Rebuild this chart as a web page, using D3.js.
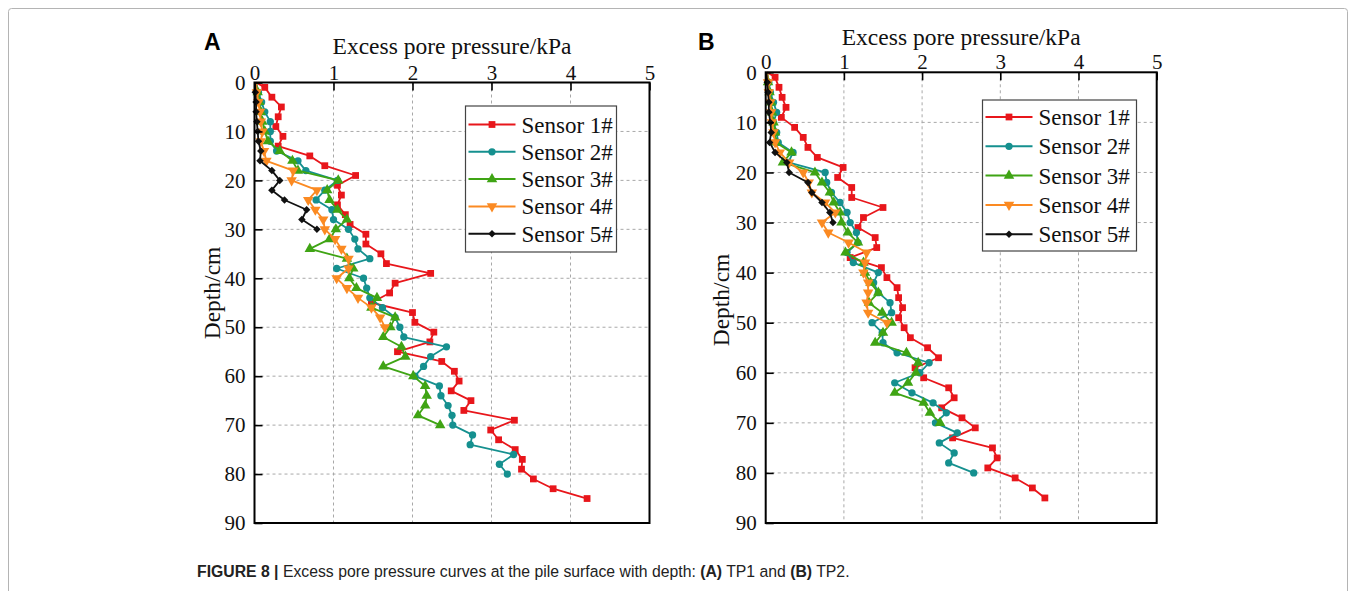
<!DOCTYPE html>
<html>
<head>
<meta charset="utf-8">
<script src="https://cdn.jsdelivr.net/npm/d3@7"></script>
<style>
  html, body { margin: 0; padding: 0; background: #fff; }
  svg { display: block; }
</style>
</head>
<body>
<svg id="fig" width="1356" height="591"></svg>
<script>
// ---------- data: excess pore pressure (kPa) against depth (cm) ----------
const sensorNames = ["Sensor 1#", "Sensor 2#", "Sensor 3#", "Sensor 4#", "Sensor 5#"];
const xTicks = [0, 1, 2, 3, 4, 5];
const yTicks = [0, 10, 20, 30, 40, 50, 60, 70, 80, 90];

// TP1
const depthA1 = [0,1,3,5,7,9,11,13,15,17,19,21,23,25,27,29,31,33,35,37,39,41,43,45,47,49,51,53,55,57,59,61,63,65,67,69,71,73,75,77,79,81,83,85];
const pressA1 = [0.02,0.13,0.22,0.34,0.30,0.27,0.36,0.30,0.70,0.89,1.28,1.05,1.10,1.05,1.15,1.21,1.41,1.41,1.60,1.67,2.23,1.78,1.71,1.48,2.00,2.03,2.27,2.22,1.81,2.37,2.53,2.59,2.49,2.74,2.65,3.29,2.99,3.09,3.30,3.39,3.38,3.53,3.78,4.21];
const depthA2 = [0,2,4,6,8,10,12,14,16,18,20,22,24,26,28,30,32,34,36,38,40,42,44,46,48,50,52,54,56,58,60,62,64,66,68,70,72,74,76,78,80];
const pressA2 = [0.02,0.05,0.09,0.13,0.20,0.20,0.20,0.28,0.55,0.65,1.05,0.89,0.78,0.98,1.00,1.19,1.27,1.31,1.46,1.04,1.38,1.42,1.46,1.62,1.78,1.84,1.89,2.43,2.23,2.14,2.03,2.34,2.36,2.45,2.50,2.51,2.76,2.73,3.28,3.10,3.20];
const depthA3 = [0,2,4,6,8,10,12,14,16,18,20,22,24,26,28,30,32,34,36,38,40,42,44,46,48,50,52,54,56,58,60,62,64,66,68,70];
const pressA3 = [0.02,0.04,0.06,0.08,0.10,0.13,0.17,0.32,0.48,0.55,1.06,0.92,0.95,1.05,1.17,1.03,0.95,0.70,1.17,1.25,1.20,1.29,1.55,1.48,1.78,1.72,1.63,1.86,1.91,1.63,2.01,2.16,2.18,2.16,2.07,2.35];
const depthA4 = [0,2,4,6,8,10,12,14,16,18,20,22,24,26,28,30,32,34,36,38,40,42,44,46,48,50];
const pressA4 = [0.02,0.03,0.05,0.07,0.08,0.10,0.08,0.12,0.15,0.49,0.47,0.79,0.68,0.77,0.87,0.89,1.02,1.10,1.19,1.19,1.04,1.17,1.31,1.48,1.59,1.65];
const depthA5 = [0,2,4,6,8,10,12,14,16,18,20,22,24,26,28,30];
const pressA5 = [0.01,0.01,0.02,0.02,0.03,0.04,0.05,0.08,0.07,0.22,0.32,0.22,0.38,0.66,0.60,0.79];

// TP2
const depthB1 = [0,1,3,5,7,9,11,13,15,17,19,21,23,25,27,29,31,33,35,37,39,41,43,45,47,49,51,53,55,57,59,61,63,65,67,69,71,73,75,77,79,81,83,85];
const pressB1 = [0.02,0.12,0.17,0.21,0.26,0.20,0.37,0.48,0.54,0.66,0.99,0.92,1.10,1.10,1.50,1.25,1.18,1.40,1.42,1.08,1.48,1.55,1.68,1.70,1.75,1.70,1.77,1.85,2.07,2.21,1.91,2.02,2.34,2.41,2.25,2.51,2.68,2.39,2.90,2.96,2.84,3.19,3.41,3.57];
const depthB2 = [0,2,4,6,8,10,12,14,16,18,20,22,24,26,28,30,32,34,36,38,40,42,44,46,48,50,52,54,56,58,60,62,64,66,68,70,72,74,76,78,80];
const pressB2 = [0.02,0.04,0.06,0.10,0.14,0.10,0.14,0.16,0.35,0.29,0.76,0.78,0.84,0.95,1.04,1.08,1.16,1.18,1.04,1.12,1.44,1.38,1.44,1.59,1.61,1.36,1.49,1.50,1.68,2.09,1.97,1.65,1.87,2.14,2.31,2.17,2.45,2.22,2.41,2.34,2.66];
const depthB3 = [0,2,4,6,8,10,12,14,16,18,20,22,24,26,28,30,32,34,36,38,40,42,44,46,48,50,52,54,56,58,60,62,64,66,68,70];
const pressB3 = [0.02,0.03,0.05,0.07,0.08,0.10,0.12,0.13,0.33,0.22,0.63,0.72,0.82,0.87,0.95,0.97,1.05,1.18,1.02,1.25,1.27,1.34,1.44,1.32,1.49,1.61,1.50,1.40,1.80,1.95,1.92,1.82,1.65,2.02,2.10,2.23];
const depthB4 = [0,2,4,6,8,10,12,14,16,18,20,22,24,26,28,30,32,34,36,38,40,42,44,46,48,50];
const pressB4 = [0.02,0.03,0.04,0.06,0.07,0.08,0.10,0.12,0.18,0.30,0.48,0.55,0.59,0.76,0.89,0.72,0.80,1.06,1.29,1.27,1.25,1.31,1.31,1.29,1.31,1.55];
const depthB5 = [0,2,4,6,8,10,12,14,16,18,20,22,24,26,28,30];
const pressB5 = [0.01,0.02,0.03,0.04,0.04,0.06,0.07,0.05,0.12,0.27,0.30,0.54,0.59,0.72,0.82,0.86];

// ---------- styling ----------
const colors = ["#e8161b", "#15908f", "#3fa414", "#fb8a22", "#111111"];
const markerFor = [
  { type: d3.symbolSquare, size: 46, rot: 0 },
  { type: d3.symbolCircle, size: 42, rot: 0 },
  { type: d3.symbolTriangle, size: 48, rot: 0 },
  { type: d3.symbolTriangle, size: 48, rot: 180 },
  { type: d3.symbolSquare, size: 28, rot: 45 }
];
const serif = "'Liberation Serif', 'Times New Roman', serif";
const sans = "'Liberation Sans', Arial, sans-serif";

const svg = d3.select("#fig");

// outer figure border
svg.append("rect")
  .attr("x", 8.5).attr("y", 8.5).attr("width", 1339).attr("height", 600)
  .attr("rx", 3).attr("fill", "none").attr("stroke", "#b4b4b4").attr("stroke-width", 1);

function zip(ds, vs) { return ds.map((d, i) => ({ depth: d, p: vs[i] })); }

function drawPanel(cfg) {
  const x = d3.scaleLinear().domain([0, 5]).range([cfg.left, cfg.right]);
  const y = d3.scaleLinear().domain([0, 90]).range([cfg.top, cfg.bottom]);
  const g = svg.append("g");

  // dashed grid
  g.append("g").selectAll("line").data(xTicks.slice(1, -1)).join("line")
    .attr("x1", d => x(d)).attr("x2", d => x(d))
    .attr("y1", cfg.top).attr("y2", cfg.bottom)
    .attr("stroke", "#a8a8a8").attr("stroke-width", 1).attr("stroke-dasharray", "3,3");
  g.append("g").selectAll("line").data(yTicks.slice(1, -1)).join("line")
    .attr("x1", cfg.left).attr("x2", cfg.right)
    .attr("y1", d => y(d)).attr("y2", d => y(d))
    .attr("stroke", "#a8a8a8").attr("stroke-width", 1).attr("stroke-dasharray", "3,3");

  // series
  const line = d3.line().x(d => x(d.p)).y(d => y(d.depth));
  cfg.series.forEach((s, i) => {
    const pts = zip(s.depth, s.p);
    g.append("path").datum(pts)
      .attr("d", line).attr("fill", "none")
      .attr("stroke", colors[i]).attr("stroke-width", 1.8).attr("stroke-linejoin", "round");
    const m = markerFor[i];
    g.append("g").selectAll("path").data(pts.filter(d => d.depth > 0)).join("path")
      .attr("d", d3.symbol().type(m.type).size(m.size))
      .attr("transform", d => `translate(${x(d.p)},${y(d.depth)}) rotate(${m.rot})`)
      .attr("fill", colors[i]);
  });

  // axes (ticks point inward)
  const ax = g.append("g").attr("transform", `translate(0,${cfg.top})`)
    .call(d3.axisTop(x).tickValues(xTicks).tickFormat(d3.format("d")).tickSizeInner(-8).tickSizeOuter(0).tickPadding(3));
  const ay = g.append("g").attr("transform", `translate(${cfg.left},0)`)
    .call(d3.axisLeft(y).tickValues(yTicks).tickFormat(d3.format("d")).tickSizeInner(-8).tickSizeOuter(0).tickPadding(9));
  [ax, ay].forEach(a => {
    a.select(".domain").remove();
    a.selectAll(".tick line").attr("stroke", "#000").attr("stroke-width", 1.6);
    a.selectAll(".tick text").attr("font-family", serif).attr("font-size", 21).attr("fill", "#111");
  });

  // frame
  g.append("rect")
    .attr("x", cfg.left).attr("y", cfg.top)
    .attr("width", cfg.right - cfg.left).attr("height", cfg.bottom - cfg.top)
    .attr("fill", "none").attr("stroke", "#000").attr("stroke-width", 2);

  // titles
  g.append("text").attr("x", (cfg.left + cfg.right) / 2).attr("y", cfg.titleY)
    .attr("text-anchor", "middle").attr("font-family", serif).attr("font-size", 23.5).attr("fill", "#111")
    .text("Excess pore pressure/kPa");
  g.append("text")
    .attr("transform", `translate(${cfg.yTitleX},${cfg.yTitleY}) rotate(-90)`)
    .attr("text-anchor", "middle").attr("font-family", serif).attr("font-size", 23.5).attr("fill", "#111")
    .text("Depth/cm");
  g.append("text").attr("x", cfg.tagX).attr("y", 50)
    .attr("font-family", sans).attr("font-weight", "bold").attr("font-size", 23).attr("fill", "#000")
    .text(cfg.tag);

  // legend
  const L = cfg.legend;
  const lg = g.append("g");
  lg.append("rect").attr("x", L.x).attr("y", L.y).attr("width", L.w).attr("height", L.h)
    .attr("fill", "#fff").attr("stroke", "#444").attr("stroke-width", 1.2);
  sensorNames.forEach((name, i) => {
    const cy = L.y + L.first + i * L.step;
    lg.append("line").attr("x1", L.x + 3).attr("x2", L.x + 50).attr("y1", cy).attr("y2", cy)
      .attr("stroke", colors[i]).attr("stroke-width", 2);
    const m = markerFor[i];
    lg.append("path").attr("d", d3.symbol().type(m.type).size(m.size)())
      .attr("transform", `translate(${L.x + 26.5},${cy}) rotate(${m.rot})`).attr("fill", colors[i]);
    lg.append("text").attr("x", L.x + 56).attr("y", cy).attr("dy", "0.35em")
      .attr("font-family", serif).attr("font-size", 23).attr("fill", "#111").text(name);
  });
}

drawPanel({
  tag: "A", tagX: 204,
  left: 254.5, right: 649.5, top: 82.5, bottom: 523,
  titleY: 54, yTitleX: 220, yTitleY: 293,
  legend: { x: 465.5, y: 106, w: 151, h: 146, first: 18.5, step: 27.3 },
  series: [
    { depth: depthA1, p: pressA1 }, { depth: depthA2, p: pressA2 }, { depth: depthA3, p: pressA3 },
    { depth: depthA4, p: pressA4 }, { depth: depthA5, p: pressA5 }
  ]
});

drawPanel({
  tag: "B", tagX: 698,
  left: 765.7, right: 1156.7, top: 72.3, bottom: 523,
  titleY: 45, yTitleX: 729, yTitleY: 300,
  legend: { x: 982.5, y: 100, w: 154, h: 151, first: 17, step: 29.3 },
  series: [
    { depth: depthB1, p: pressB1 }, { depth: depthB2, p: pressB2 }, { depth: depthB3, p: pressB3 },
    { depth: depthB4, p: pressB4 }, { depth: depthB5, p: pressB5 }
  ]
});

// caption: a condensed sans line, narrowed horizontally to its printed width
const capG = svg.append("g");
const cap = capG.append("text").attr("x", 0).attr("y", 0)
  .attr("font-family", sans).attr("font-size", 17).attr("fill", "#222");
[["FIGURE 8 |", true], [" Excess pore pressure curves at the pile surface with depth: ", false],
 ["(A)", true], [" TP1 and ", false], ["(B)", true], [" TP2.", false]]
  .forEach(([t, b]) => cap.append("tspan").attr("font-weight", b ? "bold" : "normal").text(t));
const capW = cap.node().getComputedTextLength();
capG.attr("transform", `translate(197,577) scale(${653 / capW},1)`);
</script>
</body>
</html>
